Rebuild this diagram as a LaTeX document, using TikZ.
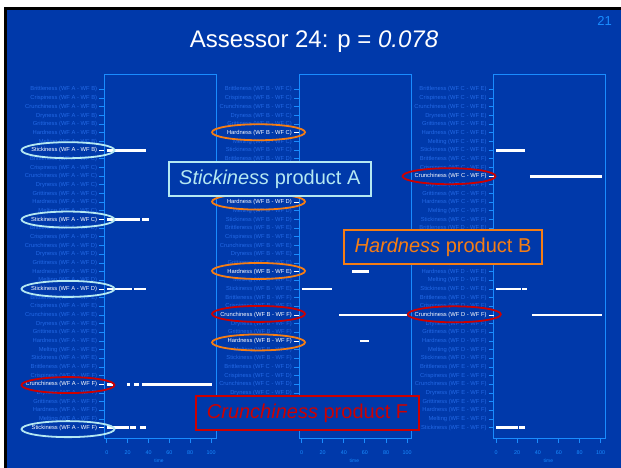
\documentclass[tikz,border=0pt]{standalone}
\usepackage{fontspec}
\setmainfont{Liberation Sans}
\usepackage{xcolor}
\usepackage{tikz}
\usetikzlibrary{positioning, calc}

\definecolor{slidebg}{RGB}{0,57,170}
\definecolor{axisblue}{RGB}{25,140,255}
\definecolor{fadeblue}{RGB}{35,105,230}
\definecolor{ringcyan}{RGB}{180,232,242}
\definecolor{ringorange}{RGB}{245,125,20}
\definecolor{ringred}{RGB}{205,0,0}

\tikzset{
  hilite/.style={color=white},
  hl/.style={r#1/.style={hilite}},
  hl/.list={1-7,1-15,1-23,1-34,1-39,2-5,2-13,2-21,2-26,2-29,3-10,3-26}
}

\begin{document}
\begin{tikzpicture}[
  x=1pt, y=-1pt,
  rowlabel/.style={anchor=east, inner sep=0pt, text=fadeblue,
    font=\fontsize{5.8}{6}\selectfont},
  rowtick/.style={draw=axisblue, line width=0.8pt},
  panelbox/.style={draw=axisblue, line width=0.9pt},
  ticklabel/.style={text=axisblue, inner sep=0pt, font=\fontsize{5.4}{6}\selectfont},
  bar/.style={draw=white, line width=2.7pt},
  ring/.style={line width=1.8pt},
  callout/.style={fill=slidebg, line width=2pt, minimum height=34pt,
    inner sep=0pt, font=\fontsize{20}{24}\selectfont}
]

\useasboundingbox (0,0) rectangle (621,468);
\fill[white] (0,0) rectangle (621,468);
\fill[black] (4,7.3) rectangle (621,468);
\fill[slidebg] (7,9.8) rectangle (621,468);

\node[text=white, font=\fontsize{24}{28}\selectfont] (title) at (314,41.7) {Assessor 24: p = \textit{0.078}};
\node[text=axisblue, font=\fontsize{13}{14}\selectfont] (pagenum) at (604.5,20.7) {21};

% three panels of paired differences
\foreach \pn/\lft/\scl/\pairs/\bars in {
  1/104.3/1.043/{A/B,A/C,A/D,A/E,A/F}/{7/0/37.5,15/0/31.8,15/34/40,23/0/24.4,23/25.7/37.2,34/0.5/5.6,34/19.3/21.9,34/26/31.1,34/33.7/101,39/0.5/21,39/22.5/28,39/31.8/37.2},
  2/299/1.057/{B/C,B/D,B/E,B/F,C/D}/{21/47.8/63.9,23/0/28.9,26/35.5/100,29/55.6/63.9},
  3/493.7/1.043/{C/E,C/F,D/E,D/F,E/F}/{7/0/27.6,10/32.4/101.4,23/0/23.5,23/25.1/29.3,26/34.3/101.4,39/0/20.9,39/22.2/27.6}} {
  \draw[panelbox] (\lft,74.3) rectangle (\lft+112,438.3);
  \foreach \wa/\wb [count=\k from 0] in \pairs {
    \foreach \att [count=\j from 0] in {Brittleness,Crispiness,Crunchiness,Dryness,Grittiness,Hardness,Melting,Stickiness} {
      \pgfmathtruncatemacro\rw{8*\k+\j}
      \pgfmathsetmacro\yy{89.5+8.67*\rw}
      \node[rowlabel, r\pn-\rw/.try] (lab\pn-\rw) at (\lft-7,\yy) {\att\ (WF \wa\ - WF \wb)};
      \draw[rowtick, r\pn-\rw/.try] (\lft-5,\yy) -- (\lft,\yy);
    }
  }
  \foreach \tm in {0,20,...,100} {
    \draw[panelbox] (\lft+2.5+\tm*\scl,438.3) -- ++(0,4.7);
    \node[ticklabel] (tk\pn-\tm) at (\lft+2.5+\tm*\scl,452.7) {\tm};
  }
  \node[ticklabel, font=\fontsize{4.9}{5}\selectfont] (time\pn) at (\lft+2.5+50*\scl,460.5) {time};
  \foreach \rw/\ua/\ub in \bars {
    \draw[bar] (\lft+2.5+\ua*\scl,89.5+8.67*\rw) -- (\lft+2.5+\ub*\scl,89.5+8.67*\rw);
  }
}

% rings
\foreach \rw in {7,15,23}
  \draw[ring, ringcyan] ([xshift=-29.3]lab1-\rw.east) ellipse [x radius=46.5pt, y radius=8pt];
\draw[ring, ringcyan] ([xshift=-29.3, yshift=-1.5]lab1-39.east) ellipse [x radius=46.5pt, y radius=8pt];
\draw[ring, ringred] ([xshift=-29.3, yshift=-0.8]lab1-34.east) ellipse [x radius=46.5pt, y radius=8pt];
\foreach \rw in {5,13,21}
  \draw[ring, ringorange] ([xshift=-33.5, yshift=0.6]lab2-\rw.east) ellipse [x radius=46.5pt, y radius=8pt];
\draw[ring, ringorange] ([xshift=-33.5, yshift=-1.5]lab2-29.east) ellipse [x radius=46.5pt, y radius=8pt];
\draw[ring, ringred] ([xshift=-33.5, yshift=1]lab2-26.east) ellipse [x radius=46.5pt, y radius=8pt];
\draw[ring, ringred] ([xshift=-37.7]lab3-10.east) ellipse [x radius=46.5pt, y radius=8pt];
\draw[ring, ringred] ([xshift=-32.4, yshift=0.6]lab3-26.east) ellipse [x radius=46.5pt, y radius=8pt];

% callouts
\node[callout, draw=ringcyan, text=ringcyan, minimum width=201.7pt] (stickA) at (269.8,179.2) {\textit{Stickiness} product A};
\node[callout, draw=ringorange, text=ringorange, minimum width=197.4pt] (hardB) at (443,247.2) {\textit{Hardness} product B};
\node[callout, draw=ringred, text=ringred, minimum width=223pt] (crunchF) at (307.5,413.3) {\textit{Crunchiness} product F};

\end{tikzpicture}
\end{document}
